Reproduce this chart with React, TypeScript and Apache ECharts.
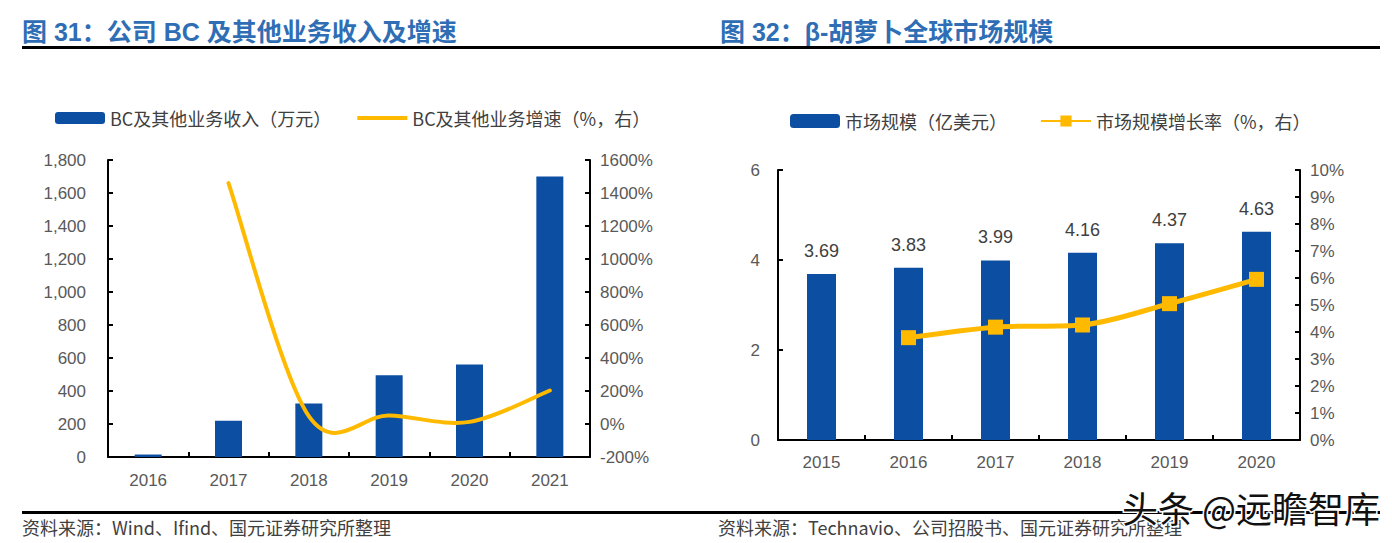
import React, { useEffect, useRef } from 'react';
import * as echarts from 'echarts';

// ---- Data ----
const bcYears = ['2016', '2017', '2018', '2019', '2020', '2021'];
const bcRevenue = [15, 220, 325, 495, 560, 1700];
const bcGrowth = [null, 1460, 48, 52, 13, 203];

const mkYears = ['2015', '2016', '2017', '2018', '2019', '2020'];
const mkSize = [3.69, 3.83, 3.99, 4.16, 4.37, 4.63];
const mkGrowth = [null, 3.79, 4.18, 4.26, 5.05, 5.95];

const bcRevName = 'BC及其他业务收入（万元）';
const bcGrowthName = 'BC及其他业务增速（%，右）';
const mkSizeName = '市场规模（亿美元）';
const mkGrowthName = '市场规模增长率（%，右）';

const leftTitle = '图 31：公司 BC 及其他业务收入及增速';
const rightTitle = '图 32：β-胡萝卜全球市场规模';
const leftSource = '资料来源：Wind、Ifind、国元证券研究所整理';
const rightSource = '资料来源：Technavio、公司招股书、国元证券研究所整理';
const watermark = '头条 @远瞻智库';

const BLUE = '#0B4EA2';
const YELLOW = '#FFBA00';
const FONT = '"Liberation Sans", "Noto Sans CJK SC", sans-serif';
const CJK = '"Noto Sans CJK SC", "Liberation Sans", sans-serif';

const axisLine = { show: true, lineStyle: { color: '#000', width: 2 } };
const axisTick = { show: true, inside: true, length: 5, lineStyle: { color: '#000', width: 2 } };
const labelStyle = { color: '#595959', fontSize: 17, fontFamily: FONT };

// Excel-like smoothed line (Catmull-Rom style bezier through the data points)
const bcGrowthData = bcGrowth
  .map((v, i) => (v == null ? null : [i, v]))
  .filter((d) => d !== null) as number[][];

function renderSmoothLine(params: any, api: any) {
  if (params.dataIndex !== 0) return null;
  const pts = bcGrowthData.map((d) => api.coord(d));
  const n = pts.length;
  let d = `M${pts[0][0]},${pts[0][1]}`;
  for (let i = 0; i < n - 1; i++) {
    const p0 = pts[Math.max(i - 1, 0)];
    const p1 = pts[i];
    const p2 = pts[i + 1];
    const p3 = pts[Math.min(i + 2, n - 1)];
    const c1x = p1[0] + (p2[0] - p0[0]) / 6;
    const c1y = p1[1] + (p2[1] - p0[1]) / 6;
    const c2x = p2[0] - (p3[0] - p1[0]) / 6;
    const c2y = p2[1] - (p3[1] - p1[1]) / 6;
    d += ` C${c1x},${c1y} ${c2x},${c2y} ${p2[0]},${p2[1]}`;
  }
  return {
    type: 'path',
    shape: { pathData: d },
    style: { stroke: YELLOW, lineWidth: 4, fill: 'none', lineCap: 'round', lineJoin: 'round' },
  };
}

export default function App() {
  const ref = useRef<HTMLDivElement>(null);

  useEffect(() => {
    if (!ref.current) return;
    const chart = echarts.init(ref.current, null, { renderer: 'svg' });
    const option: any = {
      animation: false,
      backgroundColor: '#fff',
      textStyle: { fontFamily: FONT },
      legend: [
        {
          left: 50,
          top: 104,
          data: [
            { name: bcRevName },
            { name: bcGrowthName, icon: 'path://M0,0 L50,0 L50,4 L0,4 Z' },
          ],
          itemWidth: 50,
          itemHeight: 12,
          itemGap: 26,
          textStyle: { color: '#404040', fontSize: 18, fontFamily: CJK },
        },
        {
          left: 785,
          top: 107,
          data: [mkSizeName, mkGrowthName],
          itemWidth: 50,
          itemHeight: 14,
          itemGap: 33,
          textStyle: { color: '#404040', fontSize: 18, fontFamily: CJK },
        },
      ],
      grid: [
        { left: 108, top: 160, width: 482, height: 297, containLabel: false },
        { left: 778, top: 170, width: 522, height: 270, containLabel: false },
      ],
      xAxis: [
        {
          type: 'category',
          gridIndex: 0,
          data: bcYears,
          axisLine,
          axisTick,
          axisLabel: { ...labelStyle, margin: 15 },
        },
        {
          type: 'category',
          gridIndex: 1,
          data: mkYears,
          axisLine,
          axisTick,
          axisLabel: { ...labelStyle, margin: 14 },
        },
      ],
      yAxis: [
        {
          type: 'value',
          gridIndex: 0,
          min: 0,
          max: 1800,
          interval: 200,
          axisLine,
          axisTick,
          splitLine: { show: false },
          axisLabel: {
            ...labelStyle,
            margin: 22,
            formatter: (v: number) => v.toLocaleString('en-US'),
          },
        },
        {
          type: 'value',
          gridIndex: 0,
          position: 'right',
          min: -200,
          max: 1600,
          interval: 200,
          axisLine,
          axisTick,
          splitLine: { show: false },
          axisLabel: { ...labelStyle, margin: 10, formatter: (v: number) => `${v}%` },
        },
        {
          type: 'value',
          gridIndex: 1,
          min: 0,
          max: 6,
          interval: 2,
          axisLine,
          axisTick,
          splitLine: { show: false },
          axisLabel: { ...labelStyle, margin: 18 },
        },
        {
          type: 'value',
          gridIndex: 1,
          position: 'right',
          min: 0,
          max: 10,
          interval: 1,
          axisLine,
          axisTick,
          splitLine: { show: false },
          axisLabel: { ...labelStyle, margin: 10, formatter: (v: number) => `${v}%` },
        },
      ],
      series: [
        {
          name: bcRevName,
          type: 'bar',
          xAxisIndex: 0,
          yAxisIndex: 0,
          data: bcRevenue,
          barWidth: 27,
          itemStyle: { color: BLUE },
        },
        {
          name: bcGrowthName,
          type: 'custom',
          coordinateSystem: 'cartesian2d',
          xAxisIndex: 0,
          yAxisIndex: 1,
          data: bcGrowthData,
          renderItem: renderSmoothLine,
          itemStyle: { color: YELLOW },
          z: 3,
        },
        {
          name: mkSizeName,
          type: 'bar',
          xAxisIndex: 1,
          yAxisIndex: 2,
          data: mkSize,
          barWidth: 29,
          itemStyle: { color: BLUE },
          label: {
            show: true,
            position: 'top',
            distance: 14,
            color: '#404040',
            fontSize: 18,
            fontFamily: FONT,
            formatter: (p: any) => p.value.toFixed(2),
          },
        },
        {
          name: mkGrowthName,
          type: 'line',
          xAxisIndex: 1,
          yAxisIndex: 3,
          data: mkGrowth,
          smooth: 0.3,
          symbol: 'rect',
          symbolSize: 15,
          lineStyle: { color: YELLOW, width: 5 },
          itemStyle: { color: YELLOW },
        },
      ],
      graphic: [
        {
          type: 'text',
          x: 22,
          y: 32,
          style: {
            text: leftTitle,
            font: `bold 25px ${FONT}`,
            fill: '#2F6EB5',
            textVerticalAlign: 'middle',
          },
        },
        {
          type: 'text',
          x: 720,
          y: 32,
          style: {
            text: rightTitle,
            font: `bold 25px ${FONT}`,
            fill: '#2F6EB5',
            textVerticalAlign: 'middle',
          },
        },
        {
          type: 'rect',
          shape: { x: 22, y: 46, width: 1358, height: 3 },
          style: { fill: '#000' },
        },
        {
          type: 'rect',
          shape: { x: 22, y: 511, width: 1358, height: 3 },
          style: { fill: '#000' },
        },
        {
          type: 'text',
          x: 22,
          y: 527,
          style: {
            text: leftSource,
            font: `18px ${CJK}`,
            fill: '#404040',
            textVerticalAlign: 'middle',
          },
        },
        {
          type: 'text',
          x: 718,
          y: 527,
          style: {
            text: rightSource,
            font: `18px ${CJK}`,
            fill: '#404040',
            textVerticalAlign: 'middle',
          },
        },
        {
          type: 'text',
          x: 1380,
          y: 507,
          z: 100,
          style: {
            text: watermark,
            font: `36px ${CJK}`,
            fill: '#111',
            stroke: '#fff',
            lineWidth: 3,
            textAlign: 'right',
            textVerticalAlign: 'middle',
          },
        },
      ],
    };
    chart.setOption(option);
    return () => chart.dispose();
  }, []);

  return (
    <div
      ref={ref}
      style={{ position: 'fixed', left: 0, top: 0, width: 1392, height: 543, background: '#fff' }}
    />
  );
}
